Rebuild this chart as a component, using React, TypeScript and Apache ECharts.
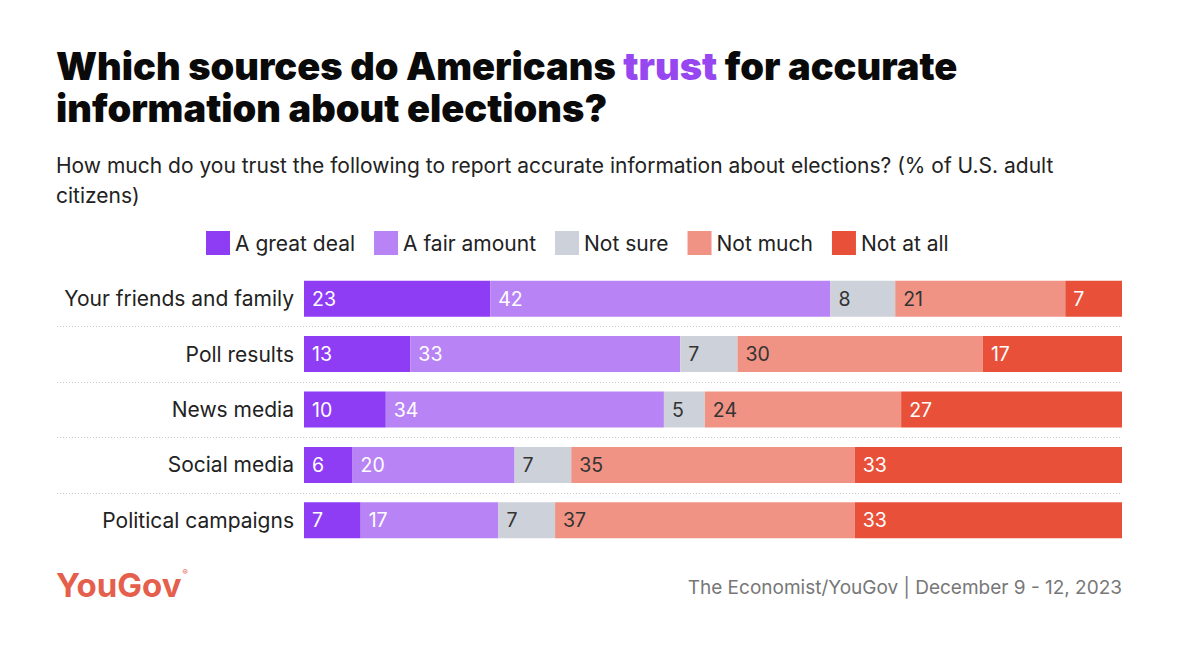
import React, { useEffect, useRef } from "react";
import * as echarts from "echarts";

const categories = [
  "Your friends and family",
  "Poll results",
  "News media",
  "Social media",
  "Political campaigns",
];
const seriesNames = ["A great deal", "A fair amount", "Not sure", "Not much", "Not at all"];
const greatDeal = [23, 13, 10, 6, 7];
const fairAmount = [42, 33, 34, 20, 17];
const notSure = [8, 7, 5, 7, 7];
const notMuch = [21, 30, 24, 35, 37];
const notAtAll = [7, 17, 27, 33, 33];
const colors = ["#8f3cf5", "#b884f5", "#cdd1d9", "#f09384", "#e8503a"];
const labelColors = ["#ffffff", "#ffffff", "#333333", "#333333", "#ffffff"];

const FONT = "Inter, 'Noto Sans', sans-serif";

export default function App() {
  const ref = useRef<HTMLDivElement>(null);
  useEffect(() => {
    if (!ref.current) return;
    const chart = echarts.init(ref.current, undefined, { renderer: "svg" });
    const all = [greatDeal, fairAmount, notSure, notMuch, notAtAll];
    const totals = categories.map((_, i) => all.reduce((s, arr) => s + arr[i], 0));
    const series = all.map((arr, k) => ({
      type: "bar",
      name: seriesNames[k],
      stack: "total",
      barWidth: 36,
      itemStyle: { color: colors[k] },
      data: arr.map((v, i) => (v / totals[i]) * 100),
      label: {
        show: true,
        position: "insideLeft",
        distance: 8,
        formatter: (p: any) => String(arr[p.dataIndex]),
        color: labelColors[k],
        fontSize: 19.5,
        fontFamily: FONT,
      },
    }));
    chart.setOption({
      animation: false,
      backgroundColor: "#ffffff",
      textStyle: { fontFamily: FONT },
      legend: {
        left: 201,
        top: 226,
        icon: "rect",
        itemWidth: 24,
        itemHeight: 24,
        itemGap: 19,
        selectedMode: false,
        textStyle: { fontSize: 21, color: "#222", fontFamily: FONT },
        data: seriesNames,
      },
      grid: { left: 304, right: 78, top: 271, bottom: 104, containLabel: false },
      xAxis: { type: "value", min: 0, max: 100, show: false },
      yAxis: {
        type: "category",
        inverse: true,
        data: categories,
        axisLine: { show: false },
        axisTick: { show: false },
        splitLine: { show: false },
        axisLabel: { fontSize: 21, color: "#222", margin: 10, fontFamily: FONT },
      },
      series,
      graphic: {
        elements: [
          {
            id: "title",
            type: "text",
            left: 56,
            top: 47,
            style: {
              text: "{b|Which sources do Americans }{p|trust}{b| for accurate}\n{b|information about elections?}",
              rich: {
                b: { fontSize: 38, fontWeight: 900, fill: "#0a0a0a", fontFamily: FONT, lineHeight: 42 },
                p: { fontSize: 38, fontWeight: 900, fill: "#9747ef", fontFamily: FONT, lineHeight: 42 },
              },
            },
          },
          {
            id: "subtitle",
            type: "text",
            left: 56,
            top: 150,
            style: {
              text: "How much do you trust the following to report accurate information about elections? (% of U.S. adult\ncitizens)",
              fontSize: 21,
              lineHeight: 30,
              fill: "#222",
              fontFamily: FONT,
            },
          },
          {
            id: "logo",
            type: "text",
            left: 56,
            top: 568,
            style: {
              text: "{y|YouGov}{r|®}",
              rich: {
                y: { fontSize: 33, fontWeight: 700, fill: "#e5604c", fontFamily: FONT },
                r: { fontSize: 8, fill: "#e5604c", fontFamily: FONT, verticalAlign: "top", padding: [0, 0, 20, 1] },
              },
            },
          },
          {
            id: "source",
            type: "text",
            right: 78,
            top: 578,
            style: {
              text: "The Economist/YouGov | December 9 - 12, 2023",
              fontSize: 19,
              fill: "#777",
              fontFamily: FONT,
            },
          },
        ],
      },
    });
    // separators between rows, computed from the axis scale
    const lines: any[] = [];
    const xr = chart.convertToPixel({ xAxisIndex: 0 }, 100) as number;
    for (let i = 0; i < categories.length - 1; i++) {
      const y1 = chart.convertToPixel({ yAxisIndex: 0 }, i) as number;
      const y2 = chart.convertToPixel({ yAxisIndex: 0 }, i + 1) as number;
      const y = Math.round((y1 + y2) / 2) + 0.5;
      lines.push({
        id: "sep" + i,
        type: "line",
        shape: { x1: 57, y1: y, x2: xr, y2: y },
        style: { stroke: "#cccccc", lineWidth: 1, lineDash: [1, 2] },
        silent: true,
      });
    }
    chart.setOption({ graphic: { elements: lines } } as any);
    return () => chart.dispose();
  }, []);
  return <div ref={ref} style={{ width: 1200, height: 652, margin: -8 }} />;
}
